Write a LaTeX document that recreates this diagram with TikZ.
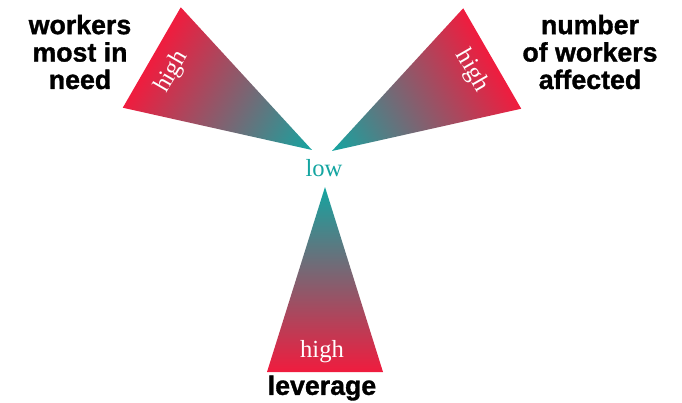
\documentclass[tikz,border=0pt]{standalone}
\usepackage{fontspec}
\setmainfont{Liberation Serif}
\setsansfont{Liberation Sans}
\newfontfamily\labelfont{Liberation Sans}[BoldFeatures={FakeBold=1.3}]
\usepackage{tikz}
\definecolor{lowc}{HTML}{14A5A1}
\definecolor{midc}{HTML}{AC7688}
\definecolor{highc}{HTML}{F01C3E}
\tikzset{
	spoketext/.style={font=\rmfamily\fontsize{17.5}{18}\selectfont, inner sep=0pt},
	axislabel/.style={font=\labelfont\bfseries\fontsize{19}{19.5}\selectfont, align=center, inner sep=0pt}
}
\def\spoke(#1)(#2){\begin{scope}[transform canvas={shift={(#1)},rotate=#2}]
	\shade[top color=lowc, middle color=midc, bottom color=highc] (0,0) -- (-58,-185) -- (58,-185) -- cycle;
	\end{scope}}

\begin{document}
\begin{tikzpicture}[x=0.025cm, y=0.025cm]
		%%%%% START %%%%%
		\useasboundingbox (0,0) rectangle (682,402);
		
		\spoke(325,215)(0)
		\spoke(312,252)(-120)
		\spoke(332,251)(120)
		
		\node[spoketext, text=lowc] (low) at (324,234) {low};
		\node[spoketext, text=white] (highleverage) at (322,50) {high};
		\node[spoketext, text=white, rotate=60] (highneed) at (172,330) {high};
		\node[spoketext, text=white, rotate=-60] (highnumber) at (472,331) {high};
		
		\node[axislabel] (leverage) at (322,14) {leverage};
		\node[axislabel] (need) at (80,350) {workers\\most in\\need};
		\node[axislabel] (number) at (590,350) {number\\of workers\\affected};
		
		%%%%% END %%%%%
	\end{tikzpicture}
\end{document}
